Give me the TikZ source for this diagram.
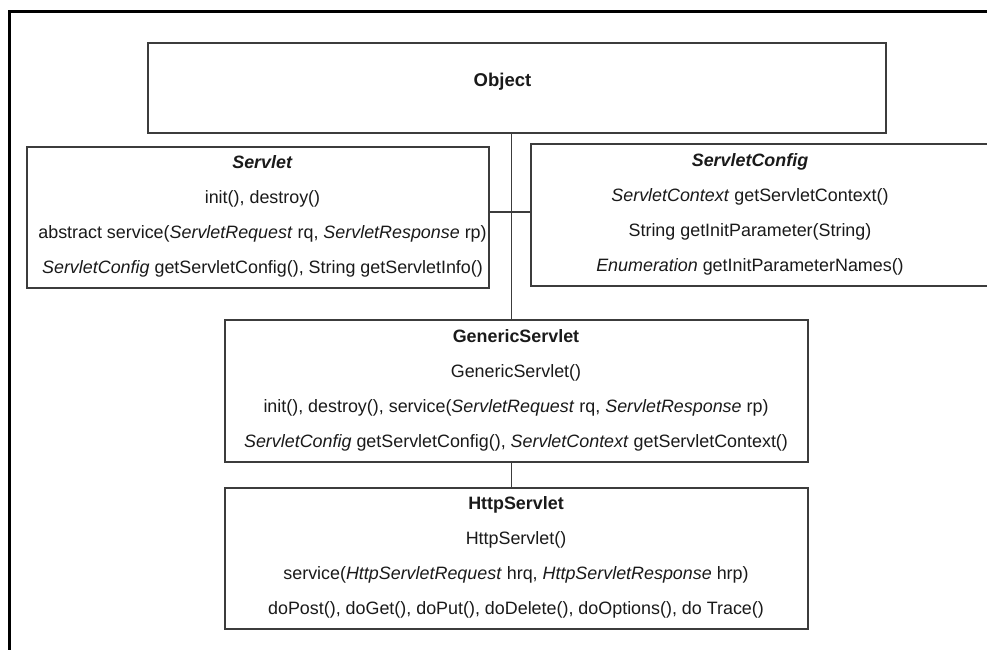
\documentclass[tikz,border=0pt]{standalone}
\usepackage{fontspec}
\setmainfont{Liberation Sans}
\begin{document}
\begin{tikzpicture}[x=1pt,y=-1pt,
  classbox/.style={draw=boxline, line width=1.3pt, rectangle, inner sep=0pt},
  members/.style={align=center, text=textcol, inner sep=0pt,
    font=\fontsize{17.9}{35}\selectfont},
  frameline/.style={line width=3pt, draw=black}]
\definecolor{boxline}{HTML}{3C3C3C}
\definecolor{textcol}{HTML}{1A1A1A}
\useasboundingbox (0,0) rectangle (987,650);
\clip (0,0) rectangle (987,650);
\fill[white] (0,0) rectangle (987,650);

% outer frame (top and left edges only)
\draw[frameline] (987,12) -- (9.5,12) -- (9.5,650);

% class boxes
\node[classbox, minimum width=738pt, minimum height=90pt]  (object)  at (517,88) {};
\node[classbox, minimum width=462pt, minimum height=141pt] (servlet) at (258,217.5) {};
\node[classbox, minimum width=540pt, minimum height=142pt] (config)  at (801,215) {};
\node[classbox, minimum width=583pt, minimum height=142pt] (generic) at (516.5,391) {};
\node[classbox, minimum width=583pt, minimum height=141pt] (http)    at (516.5,558.5) {};

% class contents
\node[members, font=\fontsize{18.5}{35}\selectfont\bfseries] (objecttxt) at (502.5,82) {Object};
\node[members] (servlettxt) at (262.5,216) {%
  \textbf{\textit{Servlet}}\\
  init(), destroy()\\
  abstract service(\textit{ServletRequest} rq, \textit{ServletResponse} rp)\\
  \textit{ServletConfig} getServletConfig(), String getServletInfo()};
\node[members] (configtxt) at (750,214.5) {%
  \textbf{\textit{ServletConfig}}\\
  \textit{ServletContext} getServletContext()\\
  String getInitParameter(String)\\
  \textit{Enumeration} getInitParameterNames()};
\node[members] (generictxt) at (516,390.5) {%
  \textbf{GenericServlet}\\
  GenericServlet()\\
  init(), destroy(), service(\textit{ServletRequest} rq, \textit{ServletResponse} rp)\\
  \textit{ServletConfig} getServletConfig(), \textit{ServletContext} getServletContext()};
\node[members] (httptxt) at (516,557) {%
  \textbf{HttpServlet}\\
  HttpServlet()\\
  service(\textit{HttpServletRequest} hrq, \textit{HttpServletResponse} hrp)\\
  doPost(), doGet(), doPut(), doDelete(), doOptions(), do Trace()};

% inheritance connectors
\coordinate (hub) at (511.5,212);
\draw[draw=boxline, line width=1.3pt] (object.south -| hub) -- (generic.north -| hub);
\draw[draw=boxline, line width=1.3pt] (servlet.east |- hub) -- (config.west |- hub);
\draw[draw=boxline, line width=1.3pt] (generic.south -| hub) -- (http.north -| hub);
\end{tikzpicture}
\end{document}
